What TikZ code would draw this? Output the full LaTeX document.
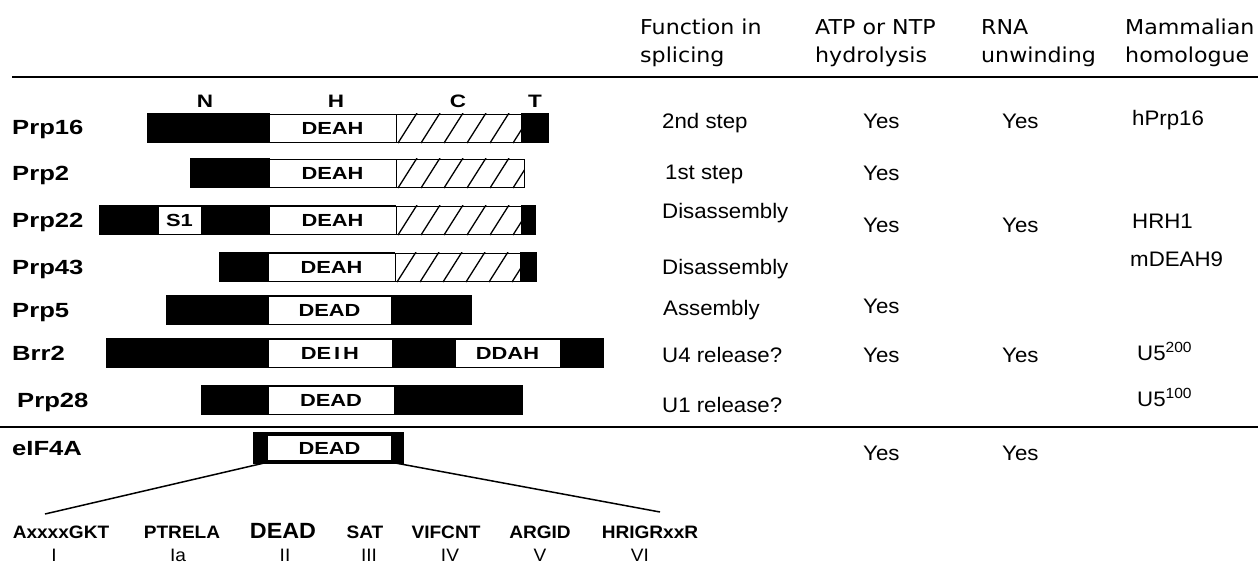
\documentclass[tikz,border=0pt]{standalone}
\usepackage{fontspec}
\setmainfont{Liberation Sans}[FakeStretch=1.06]
\newfontfamily\widefam{Liberation Sans}[FakeStretch=1.25]
\newfontfamily\hdrfont{DejaVu Sans}[FakeStretch=1.08]
\newcommand\hatchseg[3]{%
  \begin{scope}
    \clip (#1,#3-15) rectangle (#2,#3+15);
    \fill[white] (#1,#3-15) rectangle (#2,#3+15);
    \foreach \k in {0,...,5} {\draw[hatchline] ({#1+2+23*\k},#3+15) -- ({#1+21+23*\k},#3-15);}
  \end{scope}
  \draw[segline] (#1,#3-14) rectangle (#2,#3+14);}
\newcommand\blackseg[3]{\fill[black] (#1,#3-15) rectangle (#2,#3+15);}
\newcommand\whiteseg[4]{%
  \draw[segline,fill=white] (#1,#3-14) rectangle (#2,#3+14);
  \node[boxtxt] at ({(#1+#2)/2},#3) {#4};}
\tikzset{
  hatchline/.style={line width=1.3pt},
  segline/.style={line width=1pt},
  boxtxt/.style={inner sep=0pt,font=\widefam\fontsize{17.5}{17.5}\selectfont\bfseries},
  rowlbl/.style={anchor=base west,inner sep=0pt,font=\widefam\fontsize{20.5}{20.5}\selectfont\bfseries},
  domlbl/.style={inner sep=0pt,font=\widefam\fontsize{18}{18}\selectfont\bfseries},
  hdr/.style={anchor=base west,inner sep=0pt,font=\hdrfont\fontsize{20.5}{20.5}\selectfont},
  cell/.style={anchor=base west,inner sep=0pt,font=\fontsize{21}{21}\selectfont},
  motif/.style={anchor=base,inner sep=0pt,font=\fontsize{18}{18}\selectfont\bfseries},
  roman/.style={anchor=base,inner sep=0pt,font=\fontsize{18}{18}\selectfont},
  rule/.style={line width=2.5pt},
  fan/.style={line width=1.5pt}
}
\begin{document}
\begin{tikzpicture}[x=1pt,y=-1pt]
\useasboundingbox[fill=white] (0,0) rectangle (1258,565);
% header
\node[hdr] (h1a) at (640,34) {Function in};
\node[hdr] (h1b) at (640,62) {splicing};
\node[hdr] (h2a) at (815,34) {ATP or NTP};
\node[hdr] (h2b) at (815,62) {hydrolysis};
\node[hdr] (h3a) at (981,34) {RNA};
\node[hdr] (h3b) at (981,62) {unwinding};
\node[hdr] (h4a) at (1125,34) {Mammalian};
\node[hdr] (h4b) at (1125,62) {homologue};
\coordinate (r1a) at (12,77); \coordinate (r1b) at (1258,77);
\draw[rule] (r1a) -- (r1b);
\coordinate (r2a) at (0,427); \coordinate (r2b) at (1258,427);
\draw[rule] (r2a) -- (r2b);
% domain labels
\node[domlbl] (dN) at (205,101) {N};
\node[domlbl] (dH) at (336,101) {H};
\node[domlbl] (dC) at (458,101) {C};
\node[domlbl] (dT) at (535,101) {T};
% row labels
\node[rowlbl] (l1) at (12,134) {Prp16};
\node[rowlbl] (l2) at (12,180) {Prp2};
\node[rowlbl] (l3) at (12,227) {Prp22};
\node[rowlbl] (l4) at (12,274) {Prp43};
\node[rowlbl] (l5) at (12,317) {Prp5};
\node[rowlbl] (l6) at (12,360) {Brr2};
\node[rowlbl] (l7) at (17,407) {Prp28};
\node[rowlbl] (l8) at (12,455) {eIF4A};
% Prp16
\blackseg{147}{270}{128}
\whiteseg{269}{396}{128}{DEAH}
\hatchseg{396}{521}{128}
\blackseg{521}{549}{128}
% Prp2
\blackseg{190}{270}{173}
\whiteseg{269}{396}{173}{DEAH}
\hatchseg{396}{524}{173}
% Prp22
\blackseg{99}{524}{220}
\whiteseg{158}{201}{220}{S1}
\whiteseg{269}{396}{220}{DEAH}
\hatchseg{396}{521}{220}
\blackseg{521}{536}{220}
% Prp43
\blackseg{219}{537}{267}
\whiteseg{268}{395}{267}{DEAH}
\hatchseg{395}{520}{267}
\blackseg{520}{537}{267}
% Prp5
\blackseg{166}{472}{310}
\whiteseg{268}{391}{310}{DEAD}
% Brr2
\blackseg{106}{604}{353}
\whiteseg{268}{392}{353}{DE\,I\,H}
\whiteseg{455}{560}{353}{DDAH}
% Prp28
\blackseg{201}{523}{400}
\whiteseg{268}{394}{400}{DEAD}
% eIF4A
\fill[black] (253,432) rectangle (404,464);
\node[draw,line width=2.2pt,fill=white,minimum width=125pt,minimum height=27pt,inner sep=0pt,
  font=\widefam\fontsize{17.5}{17.5}\selectfont\bfseries] (eb) at (329.5,448) {DEAD};
\coordinate (fl) at (45,514);
\coordinate (fr) at (660,512);
\draw[fan] (eb.south west) -- (fl);
\draw[fan] (eb.south east) -- (fr);
% motifs
\node[motif] (m1) at (61,538) {AxxxxGKT};
\node[motif] (m2) at (182,538) {PTRELA};
\node[motif,font=\fontsize{22}{22}\selectfont\bfseries] (m3) at (283,538) {DEAD};
\node[motif] (m4) at (365,538) {SAT};
\node[motif] (m5) at (446,538) {VIFCNT};
\node[motif] (m6) at (540,538) {ARGID};
\node[motif] (m7) at (650,538) {HRIGRxxR};
\node[roman] (n1) at (54,561) {I};
\node[roman] (n2) at (178,561) {Ia};
\node[roman] (n3) at (285,561) {II};
\node[roman] (n4) at (369,561) {III};
\node[roman] (n5) at (450,561) {IV};
\node[roman] (n6) at (540,561) {V};
\node[roman] (n7) at (640,561) {VI};
% table cells
\node[cell] (f1) at (662,128) {2nd step};
\node[cell] (a1) at (863,128) {Yes};
\node[cell] (u1) at (1002,128) {Yes};
\node[cell] (m1h) at (1132,125) {hPrp16};
\node[cell] (f2) at (665,179) {1st step};
\node[cell] (a2) at (863,180) {Yes};
\node[cell] (f3) at (662,218) {Disassembly};
\node[cell] (a3) at (863,232) {Yes};
\node[cell] (u3) at (1002,232) {Yes};
\node[cell] (m3h) at (1132,228) {HRH1};
\node[cell] (f4) at (662,274) {Disassembly};
\node[cell] (m4h) at (1130,266) {mDEAH9};
\node[cell] (f5) at (663,315) {Assembly};
\node[cell] (a5) at (863,313) {Yes};
\node[cell] (f6) at (662,362) {U4 release?};
\node[cell] (a6) at (863,362) {Yes};
\node[cell] (u6) at (1002,362) {Yes};
\node[cell] (m6h) at (1137,360) {U5\textsuperscript{200}};
\node[cell] (f7) at (662,412) {U1 release?};
\node[cell] (m7h) at (1137,406) {U5\textsuperscript{100}};
\node[cell] (a8) at (863,460) {Yes};
\node[cell] (u8) at (1002,460) {Yes};
\end{tikzpicture}
\end{document}
